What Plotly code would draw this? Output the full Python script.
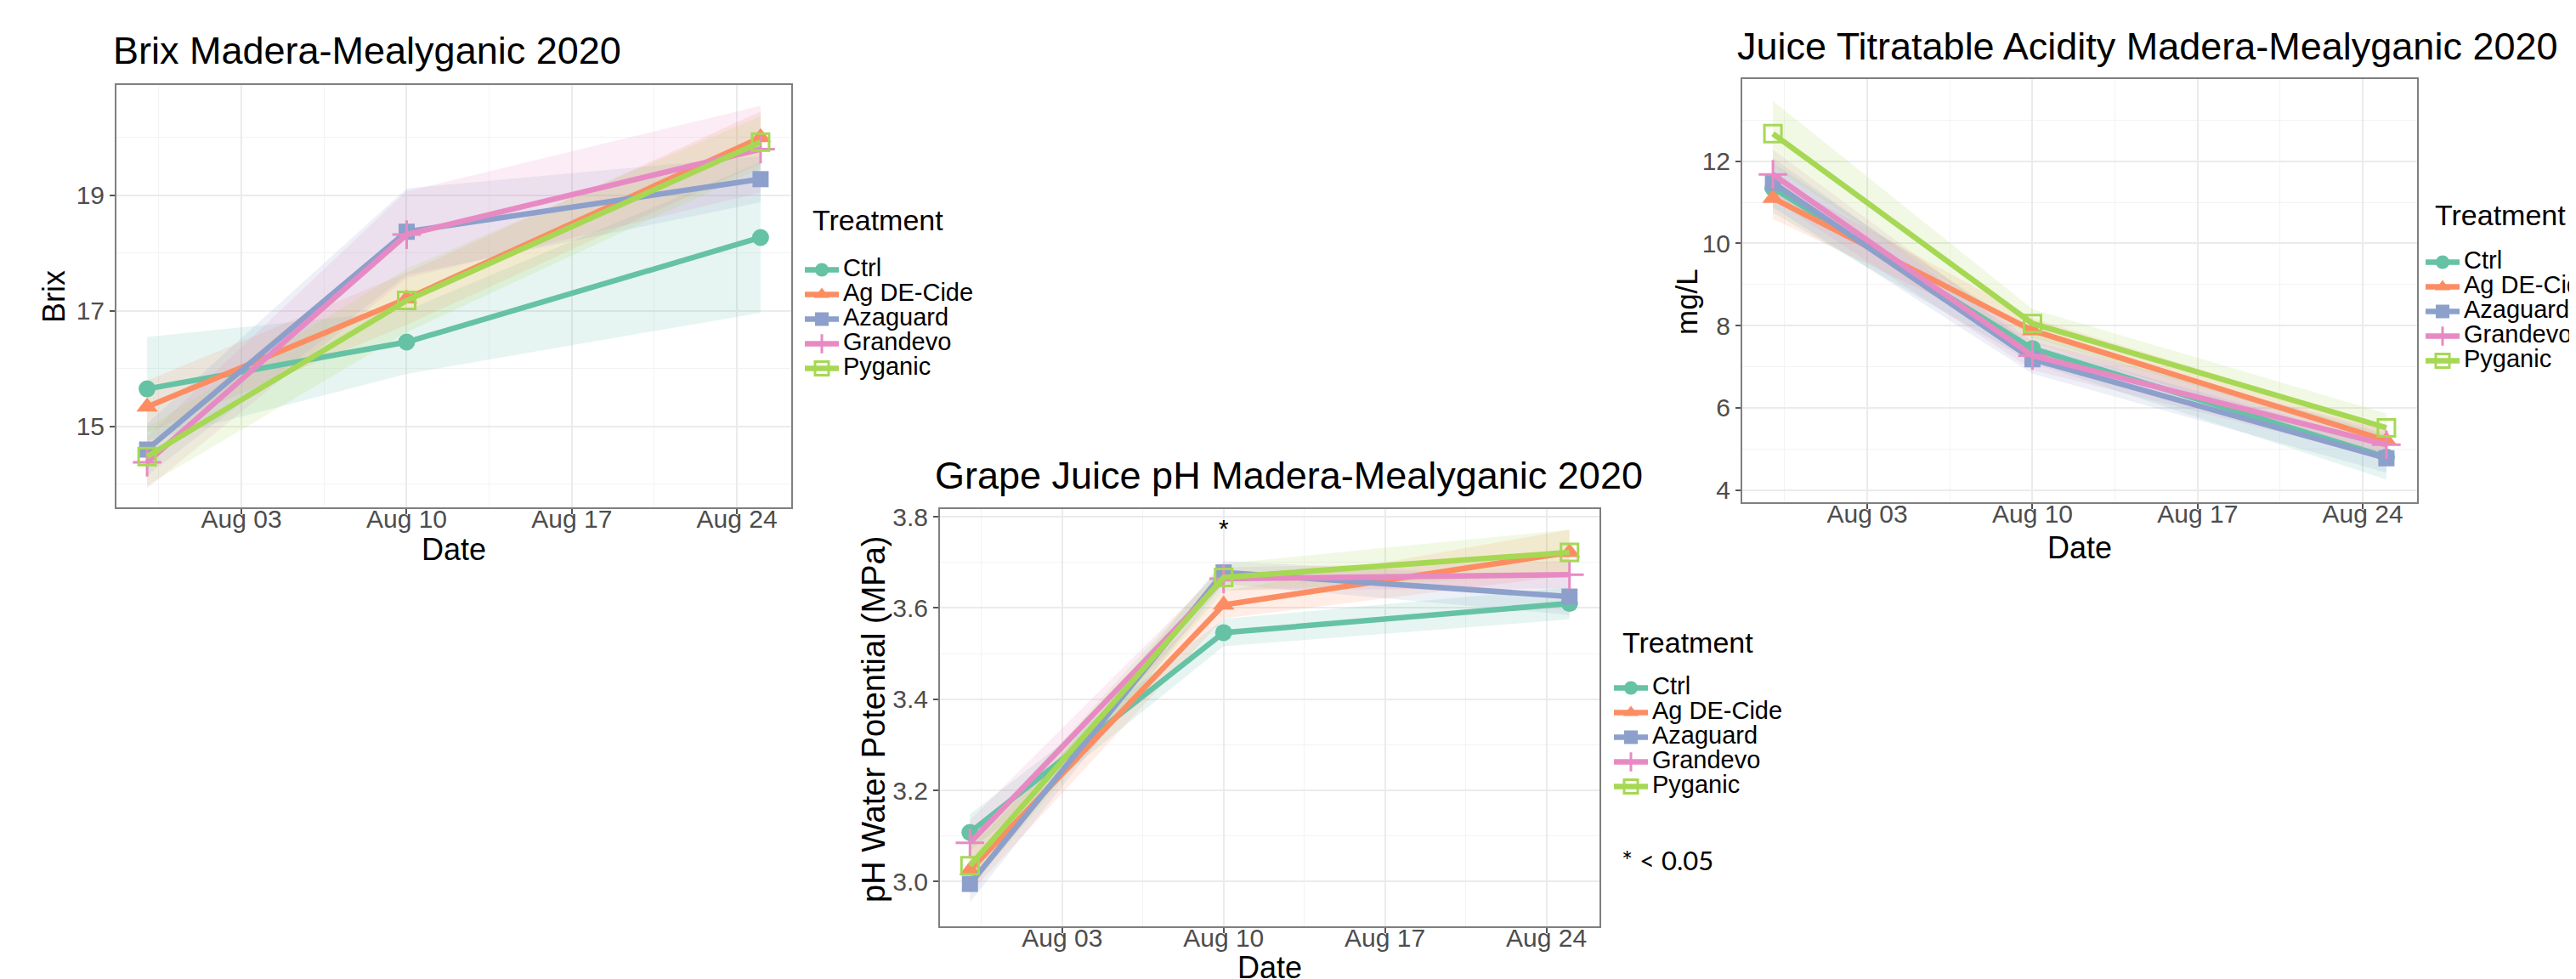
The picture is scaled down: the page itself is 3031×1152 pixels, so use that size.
import plotly.graph_objects as go

# ---------------- data ----------------
dates = ["2020-07-30", "2020-08-10", "2020-08-25"]
treatments = ["Ctrl", "Ag DE-Cide", "Azaguard", "Grandevo", "Pyganic"]

# Brix (mean, CI half-width) per treatment, per date
brix_mean = [
    [15.65, 16.46, 18.27],
    [15.34, 17.21, 20.00],
    [14.60, 18.37, 19.28],
    [14.38, 18.32, 19.80],
    [14.48, 17.18, 19.92],
]
brix_ci = [
    [0.90, 0.55, 1.30],
    [0.45, 0.45, 0.45],
    [0.45, 0.75, 0.40],
    [0.45, 0.75, 0.75],
    [0.50, 0.55, 0.45],
]

# Grape juice pH
ph_mean = [
    [3.108, 3.546, 3.610],
    [3.025, 3.607, 3.722],
    [2.995, 3.678, 3.625],
    [3.085, 3.664, 3.673],
    [3.035, 3.667, 3.722],
]
ph_ci = [
    [0.040, 0.030, 0.035],
    [0.050, 0.030, 0.050],
    [0.040, 0.025, 0.040],
    [0.050, 0.025, 0.030],
    [0.050, 0.030, 0.050],
]

# Juice titratable acidity (mg/L)
ta_mean = [
    [11.35, 7.44, 4.80],
    [11.10, 7.88, 5.20],
    [11.48, 7.18, 4.77],
    [11.68, 7.27, 5.10],
    [12.67, 8.05, 5.51],
]
ta_ci = [
    [0.60, 0.35, 0.55],
    [0.50, 0.30, 0.35],
    [0.60, 0.35, 0.35],
    [0.60, 0.35, 0.35],
    [0.80, 0.35, 0.35],
]

date_tickvals = ["2020-08-03", "2020-08-10", "2020-08-17", "2020-08-24"]
date_ticktext = ["Aug 03", "Aug 10", "Aug 17", "Aug 24"]
date_minor = ["2020-07-30 12:00", "2020-08-06 12:00", "2020-08-13 12:00", "2020-08-20 12:00"]

# ---------------- style ----------------
colors = ["#66C2A5", "#FC8D62", "#8DA0CB", "#E78AC3", "#A6D854"]
symbols = ["circle", "triangle-up", "square", "cross-thin-open", "square-open"]
msizes = [20, 22, 19, 24, 20]
FONT = "Liberation Sans, Arial, sans-serif"
W, H = 3031, 1152


def rgba(hexc, a):
    h = hexc.lstrip("#")
    return "rgba(%d,%d,%d,%.2f)" % (int(h[0:2], 16), int(h[2:4], 16), int(h[4:6], 16), a)


def px_x(p):
    return p / W


def px_y(p):
    return 1 - p / H


fig = go.Figure()

panels = [
    dict(mean=brix_mean, ci=brix_ci, xa="x", ya="y", legend="legend"),
    dict(mean=ph_mean, ci=ph_ci, xa="x2", ya="y2", legend="legend2"),
    dict(mean=ta_mean, ci=ta_ci, xa="x3", ya="y3", legend="legend3"),
]

for p in panels:
    for i, t in enumerate(treatments):
        m = p["mean"][i]
        c = p["ci"][i]
        upper = [a + b for a, b in zip(m, c)]
        lower = [a - b for a, b in zip(m, c)]
        fig.add_trace(go.Scatter(
            x=dates + dates[::-1], y=upper + lower[::-1],
            fill="toself", fillcolor=rgba(colors[i], 0.16),
            line=dict(width=0), mode="lines", showlegend=False,
            hoverinfo="skip", xaxis=p["xa"], yaxis=p["ya"]))
    for i, t in enumerate(treatments):
        open_sym = symbols[i].endswith("open")
        fig.add_trace(go.Scatter(
            x=dates, y=p["mean"][i], mode="lines+markers",
            name='<span style="font-size:29px">%s</span>' % t,
            line=dict(color=colors[i], width=6.5),
            marker=dict(symbol=symbols[i], size=msizes[i], color=colors[i],
                        line=dict(width=3 if open_sym else 0, color=colors[i])),
            legend=p["legend"], xaxis=p["xa"], yaxis=p["ya"]))

xrange_ = ["2020-07-28 16:48", "2020-08-26 07:12"]


def xax(x0, x1, anchor):
    return dict(
        domain=[px_x(x0), px_x(x1)], anchor=anchor, type="date", range=xrange_,
        tickvals=date_tickvals, ticktext=date_ticktext,
        ticks="outside", ticklen=6, tickwidth=1.5, tickcolor="#555555",
        ticklabelstandoff=-20,
        tickfont=dict(size=30, color="#4D4D4D", family=FONT),
        showgrid=True, gridcolor="#EBEBEB", gridwidth=2,
        minor=dict(tickvals=date_minor, showgrid=True, gridcolor="#F3F3F3", gridwidth=1, ticks=""),
        showline=True, linecolor="#7F7F7F", linewidth=2, mirror=True, zeroline=False)


def yax(y0, y1, rng, tv, mv, anchor, fmt=None):
    d = dict(
        domain=[px_y(y1), px_y(y0)], anchor=anchor, range=rng,
        tickvals=tv, ticks="outside", ticklen=6, tickwidth=1.5, tickcolor="#555555",
        tickfont=dict(size=30, color="#4D4D4D", family=FONT),
        showgrid=True, gridcolor="#EBEBEB", gridwidth=2,
        minor=dict(tickvals=mv, showgrid=True, gridcolor="#F3F3F3", gridwidth=1, ticks=""),
        showline=True, linecolor="#7F7F7F", linewidth=2, mirror=True, zeroline=False)
    if fmt:
        d["tickformat"] = fmt
    return d


# panel frames in pixels (left, right, top, bottom)
P1 = (129, 923, 92, 589)
P2 = (1098, 1874, 591, 1082)
P3 = (2042, 2836, 85, 583)

legend_common = dict(
    font=dict(size=20, family=FONT, color="#000000"),
    bgcolor="rgba(0,0,0,0)", borderwidth=0, xanchor="left", yanchor="top",
    itemwidth=40, tracegroupgap=0, orientation="v")

fig.update_layout(
    width=W, height=H,
    margin=dict(l=0, r=0, t=0, b=0, autoexpand=False),
    paper_bgcolor="white", plot_bgcolor="white",
    font=dict(family=FONT),
    xaxis=xax(P1[0], P1[1], "y"),
    yaxis=yax(P1[2], P1[3], [13.60, 20.91], [15, 17, 19], [14, 16, 18, 20], "x"),
    xaxis2=xax(P2[0], P2[1], "y2"),
    yaxis2=yax(P2[2], P2[3], [2.902, 3.817], [3.0, 3.2, 3.4, 3.6, 3.8], [3.1, 3.3, 3.5, 3.7], "x2", ".1f"),
    xaxis3=xax(P3[0], P3[1], "y3"),
    yaxis3=yax(P3[2], P3[3], [3.70, 14.0], [4, 6, 8, 10, 12], [5, 7, 9, 11, 13], "x3"),
    legend=dict(x=px_x(934), y=px_y(290), **legend_common),
    legend2=dict(x=px_x(1886), y=px_y(782), **legend_common),
    legend3=dict(x=px_x(2841), y=px_y(281), **legend_common),
    showlegend=True,
)

ann = []


def text(x, y, s, size, xanchor="left", angle=0, color="#000000", family=FONT):
    ann.append(dict(x=px_x(x), y=px_y(y), xref="paper", yref="paper", text=s,
                    showarrow=False, xanchor=xanchor, yanchor="middle", textangle=angle,
                    font=dict(size=size, color=color, family=family)))


# titles
text(123, 52, "Brix Madera-Mealyganic 2020", 45)
text(1090, 551, "Grape Juice pH Madera-Mealyganic 2020", 45)
text(2034, 46, "Juice Titratable Acidity Madera-Mealyganic 2020", 45)
# axis titles
text(526, 638, "Date", 36, xanchor="center")
text(1486, 1130, "Date", 36, xanchor="center")
text(2439, 636, "Date", 36, xanchor="center")
text(55, 341, "Brix", 36, xanchor="center", angle=-90)
text(1020, 838, "pH Water Potential (MPa)", 38, xanchor="center", angle=-90)
text(1976, 347, "mg/L", 35, xanchor="center", angle=-90)
# legend titles
text(946, 251, "Treatment", 34)
text(1899, 748, "Treatment", 34)
text(2855, 245, "Treatment", 34)
# significance note
text(1898, 1004, "* &lt; 0.05", 31, family="Lato, Open Sans, sans-serif")

# significance marker at Aug 10 on pH panel
ann.append(dict(x=dates[1], y=3.776, xref="x2", yref="y2", text="*", showarrow=False,
                xanchor="center", yanchor="middle", font=dict(size=30, color="#000000", family=FONT)))

fig.update_layout(annotations=ann)

fig.write_html("out.html")
